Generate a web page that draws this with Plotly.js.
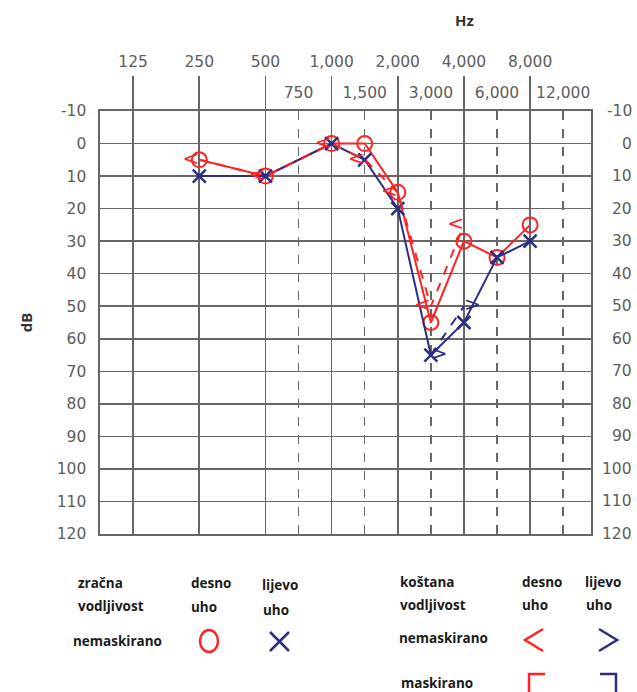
<!DOCTYPE html>
<html>
<head>
<meta charset="utf-8">
<script src="https://cdn.plot.ly/plotly-3.0.1.min.js"></script>
<style>html,body{margin:0;padding:0;background:#fff;}#chart{width:637px;height:692px;}</style>
</head>
<body>
<div id="chart"></div>
<script>
// ---- data ----
const octaveFreqs = [125, 250, 500, 1000, 2000, 4000, 8000];
const octaveLabels = ['125', '250', '500', '1,000', '2,000', '4,000', '8,000'];
const midFreqs = [750, 1500, 3000, 6000, 12000];
const midLabels = ['750', '1,500', '3,000', '6,000', '12,000'];
const dbTicks = [-10, 0, 10, 20, 30, 40, 50, 60, 70, 80, 90, 100, 110, 120];

// air conduction (zračna vodljivost), nemaskirano
const airRightFreq = [250, 500, 1000, 1500, 2000, 3000, 4000, 6000, 8000];
const airRightDb   = [5, 10, 0, 0, 15, 55, 30, 35, 25];
const airLeftFreq  = [250, 500, 1000, 1500, 2000, 3000, 4000, 6000, 8000];
const airLeftDb    = [10, 10, 0, 5, 20, 65, 55, 35, 30];
// bone conduction (koštana vodljivost), nemaskirano
const boneRightFreq = [250, 500, 1000, 1500, 2000, 3000, 4000];
const boneRightDb   = [5, 10, 0, 5, 15, 50, 25];
const boneLeftFreq  = [3000, 4000];
const boneLeftDb    = [65, 50];

// ---- helpers ----
const posMap = {};
octaveFreqs.forEach((f, i) => posMap[f] = i);
midFreqs.forEach((f, i) => posMap[f] = i + 2.5);
const fx = arr => arr.map(f => posMap[f]);

const RED = '#ff2222';
const BLUE = '#2b2e82';
const GRID = '#666666';
const TICKC = '#5c5c5c';
const FONT = 'Open Sans, Liberation Sans, sans-serif';
const TFONT = 'DejaVu Sans, sans-serif';

// plot area in pixels
const L = 100, R = 591, T = 111, B = 534;
const px = x => (x - L) / (R - L);
const py = y => (B - y) / (B - T);

const traces = [
  {x: fx(airRightFreq), y: airRightDb, mode: 'lines+markers', name: 'desno uho',
   line: {color: RED, width: 2},
   marker: {symbol: 'circle-open', size: 15, color: RED, line: {width: 2, color: RED}},
   cliponaxis: false, showlegend: false},
  {x: fx(airLeftFreq), y: airLeftDb, mode: 'lines+markers', name: 'lijevo uho',
   line: {color: BLUE, width: 2},
   marker: {symbol: 'x-thin-open', size: 13, color: BLUE, line: {width: 2.5, color: BLUE}},
   cliponaxis: false, showlegend: false},
  {x: fx(boneRightFreq), y: boneRightDb, mode: 'lines+text', name: 'koštana desno',
   text: boneRightDb.map(() => '<'), textposition: 'middle left',
   textfont: {family: 'DejaVu Sans', size: 20, color: RED},
   line: {color: RED, width: 2, dash: 'dash'}, cliponaxis: false, showlegend: false},
  {x: fx(boneLeftFreq), y: boneLeftDb, mode: 'lines+text', name: 'koštana lijevo',
   text: boneLeftDb.map(() => '>'), textposition: 'middle right',
   textfont: {family: 'DejaVu Sans', size: 20, color: BLUE},
   line: {color: BLUE, width: 2, dash: 'dash'}, cliponaxis: false, showlegend: false},
  // invisible trace to activate the secondary top axis (half-octave grid)
  {x: [0], y: [0], xaxis: 'x2', yaxis: 'y', mode: 'markers', marker: {opacity: 0},
   hoverinfo: 'skip', showlegend: false}
];

const annotations = [];
// right-side dB labels
dbTicks.forEach(v => annotations.push({
  xref: 'paper', yref: 'y', x: px(634), y: v, text: String(v), showarrow: false,
  xanchor: 'right', yanchor: 'middle', font: {family: TFONT, size: 15.5, color: TICKC}
}));
annotations.push({xref: 'paper', yref: 'paper', x: px(464), y: py(20), text: '<b>Hz</b>',
  showarrow: false, xanchor: 'center', yanchor: 'middle', font: {family: FONT, size: 15, color: '#333'}});

// legend texts
const legTxt = [
  ['zračna', 76, 583], ['vodljivost', 76, 606], ['nemaskirano', 71, 641],
  ['desno', 189, 583], ['uho', 189, 607], ['lijevo', 260, 585], ['uho', 261, 610],
  ['koštana', 398, 582], ['vodljivost', 398, 605], ['nemaskirano', 397, 638], ['maskirano', 399, 683],
  ['desno', 520, 582], ['uho', 520, 605], ['lijevo', 583, 582], ['uho', 584, 605]
];
legTxt.forEach(([t, x, y]) => annotations.push({
  xref: 'paper', yref: 'paper', x: px(x), y: py(y), text: t, showarrow: false,
  xanchor: 'left', yanchor: 'middle', font: {family: FONT, size: 13.5, color: '#1a1a1a', weight: 700}
}));

const shapes = [
  {type: 'circle', xref: 'paper', yref: 'paper', x0: px(200), x1: px(218), y0: py(630), y1: py(652),
   line: {color: RED, width: 2.5}},
  {type: 'path', xref: 'paper', yref: 'paper',
   path: `M ${px(270)} ${py(632)} L ${px(289)} ${py(651)} M ${px(270)} ${py(651)} L ${px(289)} ${py(632)}`,
   line: {color: BLUE, width: 2.5}},
  {type: 'path', xref: 'paper', yref: 'paper',
   path: `M ${px(543)} ${py(629)} L ${px(525)} ${py(640)} L ${px(543)} ${py(651)}`,
   line: {color: RED, width: 2.5}},
  {type: 'path', xref: 'paper', yref: 'paper',
   path: `M ${px(599)} ${py(629)} L ${px(617)} ${py(640)} L ${px(599)} ${py(651)}`,
   line: {color: BLUE, width: 2.5}},
  {type: 'path', xref: 'paper', yref: 'paper',
   path: `M ${px(545)} ${py(674)} L ${px(529)} ${py(674)} L ${px(529)} ${py(700)}`,
   line: {color: RED, width: 2.5}},
  {type: 'path', xref: 'paper', yref: 'paper',
   path: `M ${px(600)} ${py(674)} L ${px(616)} ${py(674)} L ${px(616)} ${py(700)}`,
   line: {color: BLUE, width: 2.5}}
];

const xRange = [-0.5, 6.92];
const layout = {
  width: 637, height: 692,
  margin: {l: L, r: 637 - R, t: T, b: 692 - B, pad: 0},
  paper_bgcolor: '#fff', plot_bgcolor: '#fff',
  font: {family: TFONT, size: 15.5, color: TICKC},
  showlegend: false,
  xaxis: {
    range: xRange, side: 'top', tickmode: 'array',
    tickvals: octaveFreqs.map(f => posMap[f]), ticktext: octaveLabels,
    ticks: 'outside', ticklen: 33, tickwidth: 1.6, tickcolor: GRID,
    ticklabelstandoff: 3,
    showgrid: true, gridcolor: GRID, gridwidth: 1.6,
    showline: true, mirror: true, linecolor: GRID, linewidth: 1.6,
    zeroline: false, tickfont: {family: TFONT, size: 15.5, color: TICKC}, fixedrange: true
  },
  xaxis2: {
    range: xRange, overlaying: 'x', side: 'top', anchor: 'y', tickmode: 'array',
    tickvals: midFreqs.map(f => posMap[f]), ticktext: midLabels,
    ticks: '', ticklabelstandoff: 9,
    showgrid: true, gridcolor: GRID, gridwidth: 1.6, griddash: 'dash',
    showline: false, zeroline: false, tickfont: {family: TFONT, size: 15.5, color: TICKC}, fixedrange: true
  },
  yaxis: {
    range: [120, -10], tickmode: 'array', tickvals: dbTicks, ticktext: dbTicks.map(String),
    ticks: '', ticklabelstandoff: 9,
    showgrid: true, gridcolor: GRID, gridwidth: 1.6,
    showline: true, mirror: true, linecolor: GRID, linewidth: 1.6,
    zeroline: false, tickfont: {family: TFONT, size: 15.5, color: TICKC}, fixedrange: true,
    title: {text: '<b>dB</b>', standoff: 20, font: {family: FONT, size: 15, color: '#333'}}
  },
  annotations: annotations,
  shapes: shapes
};

Plotly.newPlot('chart', traces, layout, {displayModeBar: false, staticPlot: true});
</script>
</body>
</html>
